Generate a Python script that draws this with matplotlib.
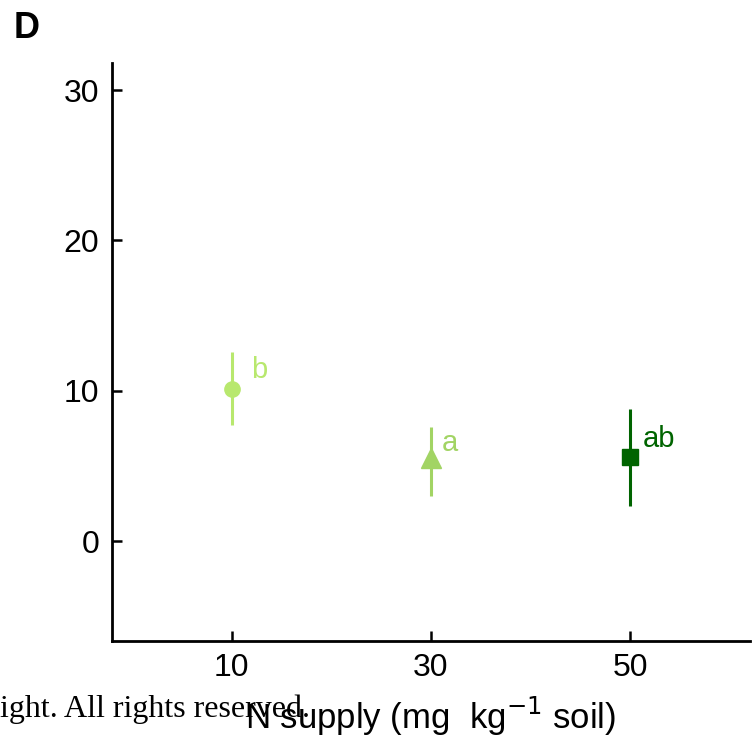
import numpy as np
import matplotlib
matplotlib.use('Agg')
import matplotlib.pyplot as plt

# data
n_supply = [10, 30, 50]
mean = [10.1, 5.5, 5.6]
err_lo = [7.7, 3.0, 2.3]
err_hi = [12.6, 7.6, 8.8]
letters = ['b', 'a', 'ab']
letter_x = [12.0, 31.1, 51.2]
letter_y = [11.4, 6.5, 6.8]
colors = ['#b8e86e', '#a2d464', '#006400']
markers = ['o', '^', 's']
msizes = [11, 14, 11]

plt.rcParams['font.family'] = ['Liberation Sans', 'DejaVu Sans']

fig = plt.figure(figsize=(7.56, 7.41), dpi=100)
ax = fig.add_axes([0.148, 0.135, 0.844, 0.780])

for x, m, lo, hi, c, mk, ms in zip(n_supply, mean, err_lo, err_hi,
                                   colors, markers, msizes):
    ax.errorbar([x], [m], yerr=[[m - lo], [hi - m]], fmt=mk, color=c,
                ms=ms, elinewidth=2.2, capsize=0, mec=c)
for lab, lx, ly, c in zip(letters, letter_x, letter_y, colors):
    ax.text(lx, ly, lab, color=c, fontsize=21, ha='left', va='center')

ax.set_xlim(-2, 62)
ax.set_ylim(-6.65, 31.8)
ax.set_xticks(n_supply)
ax.set_yticks([0, 10, 20, 30])
ax.tick_params(direction='in', length=7, width=1.8, labelsize=23, pad=9)
ax.spines['top'].set_visible(False)
ax.spines['right'].set_visible(False)
for s in ['left', 'bottom']:
    ax.spines[s].set_linewidth(2)

ax.set_xlabel(r'N supply (mg  kg$^{-1}$ soil)', fontsize=25, labelpad=8)

fig.text(0.018, 0.962, 'D', fontsize=26, fontweight='bold', va='center')
fig.text(0.0, 0.032, 'ight. All rights reserved.', fontsize=23,
         family='Liberation Serif', ha='left', va='baseline')

plt.savefig('out.png', dpi=100)
